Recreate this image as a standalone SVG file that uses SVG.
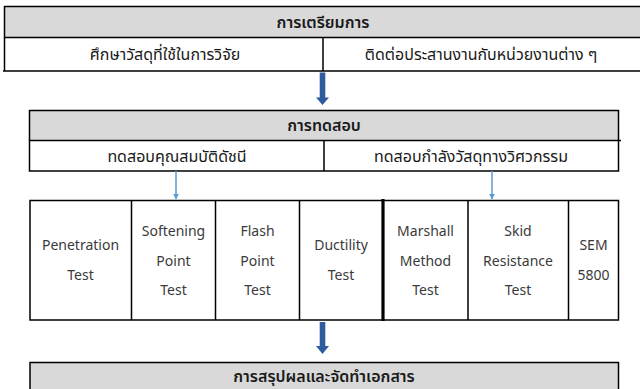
<svg xmlns="http://www.w3.org/2000/svg" width="640" height="389" viewBox="0 0 640 389">
<style>
.ln{stroke:#000;stroke-width:1.5;fill:none}
.hd{fill:#d9d9d9;stroke:#000;stroke-width:1.5}
.th{font-family:"Noto Sans Thai","Noto Sans","DejaVu Sans",sans-serif;font-size:16px;fill:#1a1a1a;text-anchor:middle}
.thb{font-weight:600}
.en{font-family:"Noto Sans","Open Sans",sans-serif;font-size:14px;fill:#3a3a3a;text-anchor:middle}
.big{fill:#2f5c9e}
.sm{stroke:#5b9bd5;stroke-width:1.5}
</style>
<defs>
<marker id="ah" viewBox="0 0 10 10" refX="9" refY="5" markerWidth="6" markerHeight="6" orient="auto" markerUnits="userSpaceOnUse"><path d="M0,0L10,5L0,10z" fill="#5b9bd5"/></marker>
</defs>
<rect width="640" height="389" fill="#fff"/>

<g id="prep">
<rect class="hd" x="4.5" y="6.5" width="640" height="31"/>
<path class="ln" d="M4.5,37.5V71M323,37.5V71M3,71H640"/>
<text class="th thb" x="323" y="28">การเตรียมการ</text>
<text class="th" x="165" y="60">ศึกษาวัสดุที่ใช้ในการวิจัย</text>
<text class="th" x="481" y="60">ติดต่อประสานงานกับหน่วยงานต่าง ๆ</text>
</g>

<g id="test">
<rect class="hd" x="29.5" y="110.5" width="589" height="30"/>
<path class="ln" d="M29.5,140.5V171H618.5V140.5M324,140.5V171M618.5,140.5H621"/>
<text class="th thb" x="324" y="131">การทดสอบ</text>
<text class="th" x="177" y="162">ทดสอบคุณสมบัติดัชนี</text>
<text class="th" x="471" y="162">ทดสอบกำลังวัสดุทางวิศวกรรม</text>
</g>

<g id="tests">
<path class="ln" d="M30,200.5H618.5V320H30ZM131.5,200.5V320M215.5,200.5V320M299.5,200.5V320M468,200.5V320M568.5,200.5V320"/>
<path d="M383,199V321" stroke="#000" stroke-width="3.2"/>
</g>
<g id="penetration"><text class="en" x="80.5" y="250">Penetration</text><text class="en" x="80.5" y="279.5">Test</text></g>
<g id="softening"><text class="en" x="173.5" y="236">Softening</text><text class="en" x="173.5" y="265.5">Point</text><text class="en" x="173.5" y="295">Test</text></g>
<g id="flash"><text class="en" x="257.5" y="236">Flash</text><text class="en" x="257.5" y="265.5">Point</text><text class="en" x="257.5" y="295">Test</text></g>
<g id="ductility"><text class="en" x="341" y="250">Ductility</text><text class="en" x="341" y="279.5">Test</text></g>
<g id="marshall"><text class="en" x="425.5" y="236">Marshall</text><text class="en" x="425.5" y="265.5">Method</text><text class="en" x="425.5" y="295">Test</text></g>
<g id="skid"><text class="en" x="518" y="236">Skid</text><text class="en" x="518" y="265.5">Resistance</text><text class="en" x="518" y="295">Test</text></g>
<g id="sem"><text class="en" x="593.5" y="250">SEM</text><text class="en" x="593.5" y="279.5">5800</text></g>

<g id="summary">
<rect class="hd" x="30" y="362.5" width="588.5" height="35"/>
<text class="th thb" x="324" y="382">การสรุปผลและจัดทำเอกสาร</text>
</g>

<g id="connectors">
<path class="big" d="M319.7,322H325.3V346H329L322.5,354L316,346H319.7Z"/>
<path class="big" d="M319.7,72.5H325.3V97.5H329L322.5,105L316,97.5H319.7Z"/>
<path class="sm" d="M176,171V199" marker-end="url(#ah)"/>
<path class="sm" d="M492,171V199" marker-end="url(#ah)"/>
</g>
</svg>
